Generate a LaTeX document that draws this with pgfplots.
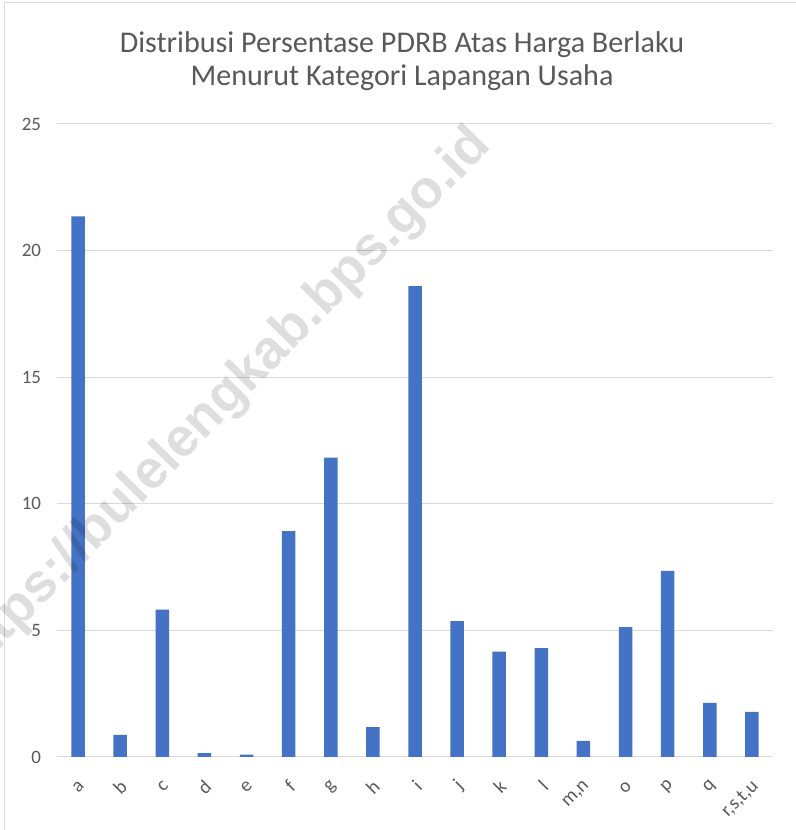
\documentclass[border=0pt]{standalone}
\usepackage{fontspec}
\setmainfont{Carlito}
\newfontfamily\wmfont{Liberation Sans}
\usepackage{pgfplots}
\pgfplotsset{compat=1.18}
\definecolor{barblue}{HTML}{4472C4}
\definecolor{gridgray}{HTML}{D9D9D9}
\definecolor{txtgray}{HTML}{595959}

\begin{document}
\begin{tikzpicture}[x=1bp,y=1bp]
\useasboundingbox (0,0) rectangle (796,830);
\draw[gridgray, line width=1bp] (4.5,-20) rectangle (820,827.5);
\node[text=txtgray, align=center, font=\fontsize{30.2}{33}\selectfont] at (402,769)
  {Distribusi Persentase PDRB Atas Harga Berlaku\\Menurut Kategori Lapangan Usaha};
\begin{axis}[at={(57bp,73bp)}, anchor=south west, scale only axis,
  width=716bp, height=633bp,
  ybar, bar width=13.5bp,
  xmin=-0.5, xmax=16.5, ymin=0, ymax=25,
  xtick={0,...,16}, ytick={0,5,...,25},
  xticklabels={a,b,c,d,e,f,g,h,i,j,k,l,{m,n},o,p,q,{r,s,t,u}},
  axis line style={draw=none}, major tick length=0,
  ymajorgrids, grid style={gridgray, line width=1bp},
  /pgf/number format/assume math mode=true,
  yticklabel style={font=\fontsize{19}{22}\selectfont, text=txtgray, xshift=-12.5bp},
  xticklabel style={xshift=6bp, yshift=-24bp, rotate=45, anchor=east,
    font=\fontsize{19.5}{22}\selectfont, text=txtgray}]
\addplot[fill=barblue, draw=none] coordinates {
  (0,21.35) (1,0.87) (2,5.82) (3,0.15) (4,0.09) (5,8.92) (6,11.82) (7,1.18)
  (8,18.6) (9,5.37) (10,4.16) (11,4.3) (12,0.64) (13,5.13) (14,7.35)
  (15,2.14) (16,1.78)};
\end{axis}
% watermark of the source site
\node[anchor=base east, rotate=45.5, inner sep=0, text=black, text opacity=0.13,
  font=\wmfont\bfseries\fontsize{54}{60}\selectfont] at (493,683)
  {https://bulelengkab.bps.go.id};
\end{tikzpicture}
\end{document}
